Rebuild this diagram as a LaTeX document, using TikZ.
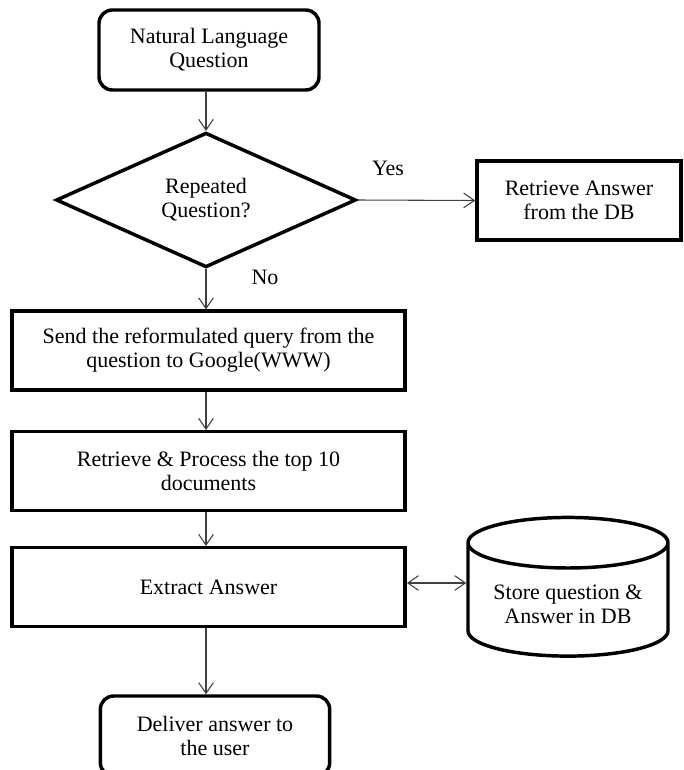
\documentclass[tikz,border=0pt]{standalone}
\usepackage{fontspec}
\setmainfont{Liberation Serif}
\usetikzlibrary{arrows.meta,positioning,shapes.geometric}
\newcommand{\qafont}{\fontsize{16.5}{18}\selectfont}
\tikzset{
  stepbox/.style={draw, line width=2.6pt, align=center, inner sep=2pt, font=\qafont},
  endbox/.style={stepbox, rounded corners=10pt, minimum height=60pt},
  widebox/.style={stepbox, minimum width=295pt, minimum height=59pt},
  decision/.style={diamond, draw, line width=2.6pt, align=center, inner sep=0pt,
              aspect=2.2, minimum width=225pt, minimum height=101pt, font=\qafont},
  store/.style={cylinder, shape border rotate=90, draw, line width=2.6pt, aspect=0.32,
              align=center, minimum width=150pt, minimum height=104pt, font=\qafont},
  lbl/.style={font=\qafont, inner sep=0pt},
  flow/.style={-{Straight Barb[length=8pt, width=11pt]}, black!75, line width=0.8pt},
}
\begin{document}
\begin{tikzpicture}[x=0.75pt, y=-0.75pt]
  \useasboundingbox (0,0) rectangle (683,770);
  \node[endbox, minimum width=165pt] (ask) at (209,50) {Natural Language\\Question};
  \node[decision] (rep) at (206,200) {Repeated\\Question?};
  \node[stepbox, minimum width=153pt, minimum height=59pt] (dbans) at (579,200.5) {Retrieve Answer\\from the DB};
  \node[widebox] (send) at (208.5,350.5) {Send the reformulated query from the\\question to Google(WWW)};
  \node[widebox] (proc) at (208.5,471) {Retrieve \& Process the top 10\\documents};
  \node[widebox] (extr) at (208.5,587) {Extract Answer};
  \node[store] (db) at (568,604) {Store question \&\\Answer in DB};
  \node[endbox, minimum width=172pt] (deliv) at (215,736) {Deliver answer to\\the user};
  \node[lbl] (yes) at (388,168) {Yes};
  \node[lbl] (no) at (265,277) {No};
  % connectors
  \draw[flow] (ask.south -| rep.north) -- (rep.north);
  \draw[flow] (rep.east) -- (dbans.west);
  \draw[flow] (rep.south) -- (rep.south |- send.north);
  \draw[flow] (send.south -| rep.south) -- (rep.south |- proc.north);
  \draw[flow] (proc.south -| rep.south) -- (rep.south |- extr.north);
  \draw[flow] (extr.south -| rep.south) -- (rep.south |- deliv.north);
  \draw[flow, {Straight Barb[length=8pt, width=11pt]}-{Straight Barb[length=8pt, width=11pt]}]
    (extr.east |- 0,583) -- (db.west |- 0,583);
\end{tikzpicture}
\end{document}
